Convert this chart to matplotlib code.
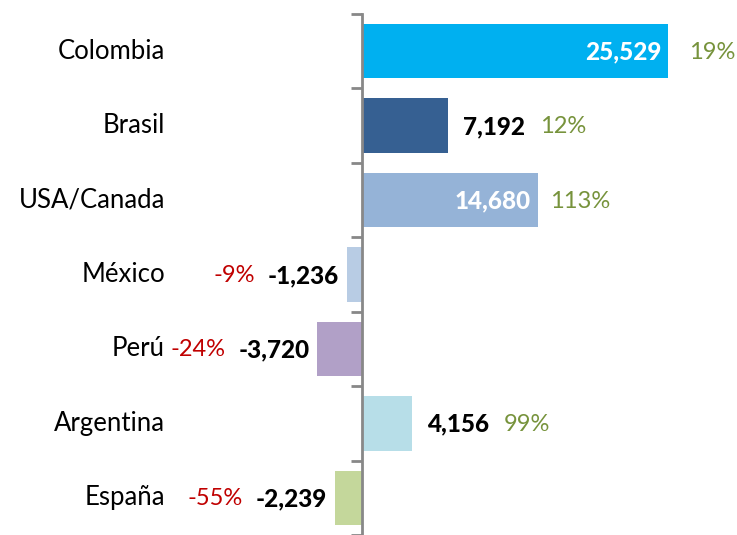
import matplotlib
matplotlib.use("Agg")
import matplotlib.pyplot as plt
import matplotlib.transforms as mtransforms

# data
countries = ["Colombia", "Brasil", "USA/Canada", "México", "Perú", "Argentina", "España"]
values = [25529, 7192, 14680, -1236, -3720, 4156, -2239]
pct_labels = ["19%", "12%", "113%", "-9%", "-24%", "99%", "-55%"]
inside_label = [True, False, True, False, False, False, False]
colors = ["#00B0F0", "#366092", "#95B3D7", "#B8CCE4", "#B1A0C7", "#B7DEE8", "#C4D79B"]

plt.rcParams["font.family"] = ["Lato", "DejaVu Sans"]

W, H = 737, 535
fig = plt.figure(figsize=(W / 100, H / 100), dpi=100)
# axes covers whole width; zero line sits at x=362px
ax = fig.add_axes([0, 0, 1, (H - 14) / H])
px = 0.012  # pixels per unit
ax.set_xlim(-362 / px, (W - 362) / px)
ax.set_ylim(len(countries) - 0.5, -0.5)

ypos = list(range(len(countries)))
ax.barh(ypos, values, height=0.73, color=colors, zorder=2)

for s in ["top", "right", "bottom"]:
    ax.spines[s].set_visible(False)
ax.spines["left"].set_position(("data", 0))
ax.spines["left"].set_color("#888888")
ax.spines["left"].set_linewidth(2)
ax.set_xticks([])
ax.set_yticks([i - 0.5 for i in range(len(countries) + 1)])
ax.set_yticklabels([])
ax.tick_params(axis="y", length=8, width=2, color="#888888", direction="out")

# pixel offsets
def off(dx, dy=0):
    return ax.transData + mtransforms.ScaledTranslation(dx / 100, dy / 100, fig.dpi_scale_trans)

blend = mtransforms.blended_transform_factory(fig.transFigure, ax.transData)
for i, name in enumerate(countries):
    ax.text(165 / W, i, name, transform=blend, ha="right", va="center",
            fontsize=18.5, color="black")

green = "#77933C"
red = "#C00000"
vw = "black"
for i, v in enumerate(values):
    lab = f"{v:,}"
    if inside_label[i]:
        ax.text(v, i, lab, transform=off(-7, -1), ha="right", va="center",
                fontsize=17.5, fontweight=vw, color="white")
        ax.text(v, i, pct_labels[i], transform=off(21 if v > 20000 else 12, -1),
                ha="left", va="center", fontsize=17, color=green)
    elif v >= 0:
        ax.text(v, i, lab, transform=off(15, -1), ha="left", va="center",
                fontsize=17.5, fontweight=vw, color="black")
        ax.text(v, i, pct_labels[i], transform=off(92, -1), ha="left", va="center",
                fontsize=17, color=green)
    else:
        ax.text(v, i, lab, transform=off(-8, -1), ha="right", va="center",
                fontsize=17.5, fontweight=vw, color="black")
        ax.text(v, i, pct_labels[i], transform=off(-92, -1), ha="right", va="center",
                fontsize=17, color=red)

fig.savefig("out.png", dpi=100)
